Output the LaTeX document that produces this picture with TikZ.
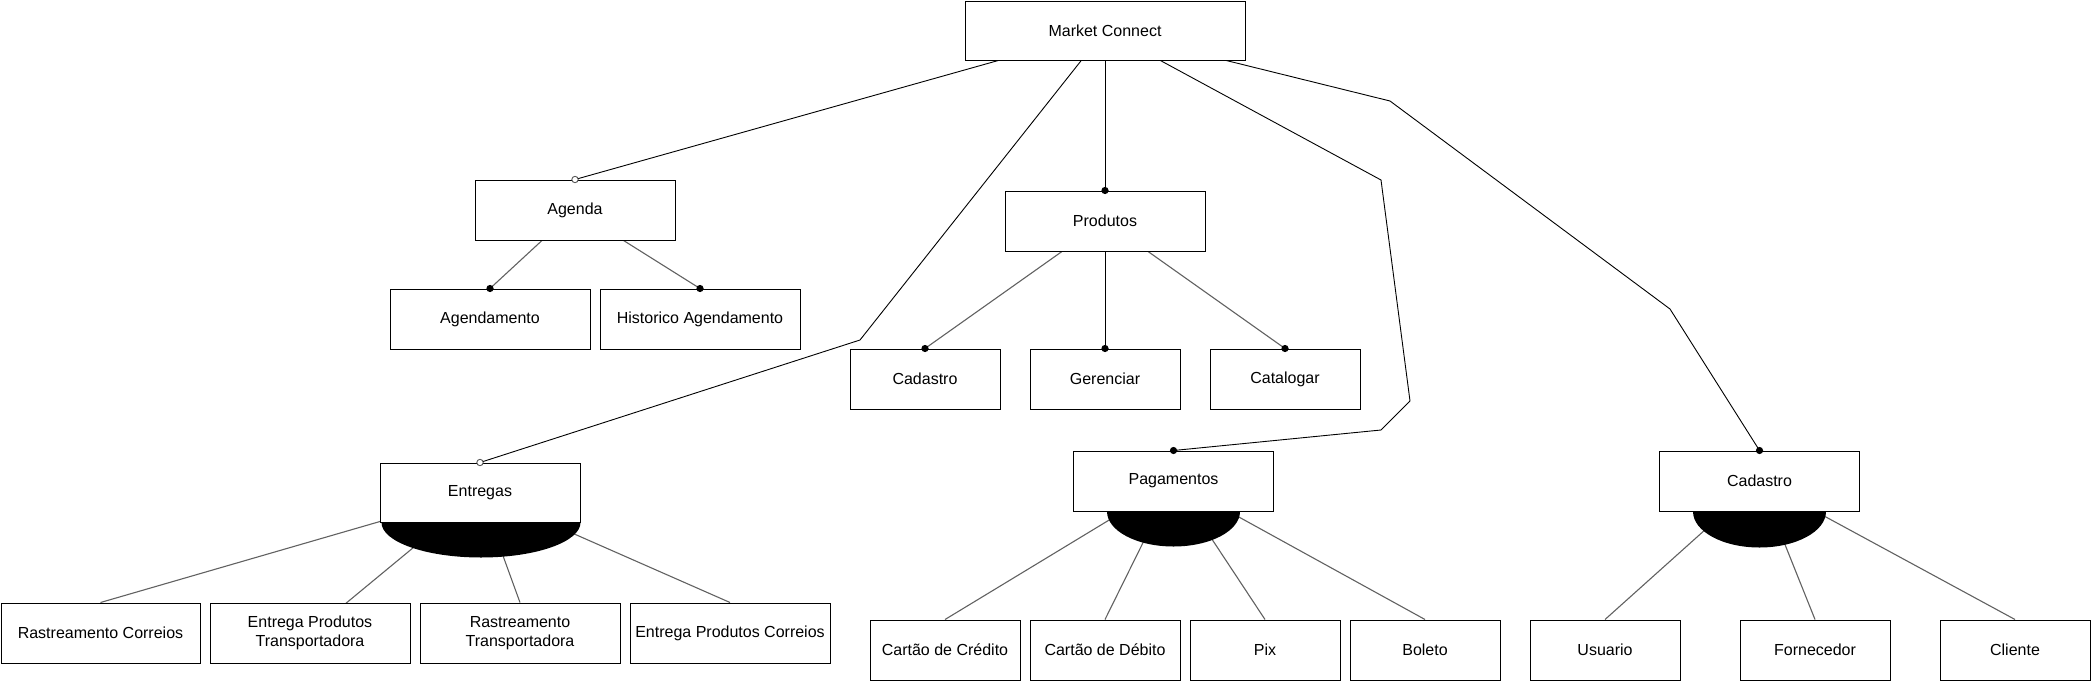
\documentclass[tikz,border=0pt]{standalone}
\usepackage{fontspec}
\setmainfont{Liberation Sans}
\usetikzlibrary{backgrounds}
\begin{document}
\begin{tikzpicture}[x=1pt,y=1pt,
  box/.style={draw=black, line width=1pt, fill=white, inner sep=0pt, minimum height=60pt, align=center, font=\fontsize{16}{19}\selectfont},
  wide/.style={box, minimum width=200pt},
  narrow/.style={box, minimum width=150pt},
  link/.style={draw=black!62, line width=1.1pt},
  toplink/.style={draw=black, line width=0.9pt},
  optdot/.style={draw=black!65, fill=white, line width=0.9pt},
  group/.style={fill=black}]
\useasboundingbox (0,0) rectangle (2091,-683);
% nodes
\node[box, minimum width=280pt, minimum height=59pt] (mc) at (1105,-30.5) {Market Connect};
\node[wide] (ag) at (575,-210) {Agenda};
\node[wide] (agd) at (490,-319) {Agendamento};
\node[wide] (his) at (700,-319) {Historico Agendamento};
\node[wide] (pr) at (1105,-221) {Produtos};
\node[narrow] (cadp) at (925,-379) {Cadastro};
\node[narrow] (ger) at (1105,-379) {Gerenciar};
\node[narrow] (cat) at (1285,-379) {Catalogar};
\node[wide, minimum height=59pt] (ent) at (480,-492.5) {Entregas};
\node[wide, minimum width=199pt] (rc) at (100.5,-633) {Rastreamento Correios};
\node[wide] (ept) at (310,-633) {Entrega Produtos\\Transportadora};
\node[wide] (rt) at (520,-633) {Rastreamento\\Transportadora};
\node[wide] (epc) at (730,-633) {Entrega Produtos Correios};
\node[wide] (pag) at (1173.5,-481) {Pagamentos};
\node[narrow] (cc) at (945,-650) {Cartão de Crédito};
\node[narrow] (cd) at (1105,-650) {Cartão de Débito};
\node[narrow] (pix) at (1265,-650) {Pix};
\node[narrow] (bol) at (1425,-650) {Boleto};
\node[wide] (cadr) at (1759.5,-481) {Cadastro};
\node[narrow] (usu) at (1605,-650) {Usuario};
\node[narrow] (forn) at (1815,-650) {Fornecedor};
\node[narrow] (cli) at (2015,-650) {Cliente};
\coordinate (b1) at (860,-340);
\coordinate (b2) at (1381,-180);
\coordinate (b3) at (1410,-401);
\coordinate (b4) at (1381,-430);
\coordinate (b5) at (1390,-101);
\coordinate (b6) at (1670,-309);
% connectors
\begin{pgfonlayer}{background}
\draw[toplink] (ag.north) -- (mc.center);
\draw[toplink] (ent.north) -- (b1) -- (mc.center);
\draw[toplink] (pr.north) -- (mc.center);
\draw[toplink] (pag.north) -- (b4) -- (b3) -- (b2) -- (mc.center);
\draw[toplink] (cadr.north) -- (b6) -- (b5) -- (mc.center);
\draw[link] (agd.north) -- (ag.center);
\draw[link] (his.north) -- (ag.center);
\draw[link] (cadp.north) -- (pr.center);
\draw[toplink] (ger.north) -- (pr.center);
\draw[link] (cat.north) -- (pr.center);
\draw[link] (rc.north) -- (ent.center);
\draw[link] (ept.center) -- (ent.center);
\draw[link] (rt.north) -- (ent.center);
\draw[link] (epc.north) -- (ent.center);
\draw[link] (cc.north) -- (pag.center);
\draw[link] (cd.north) -- (pag.center);
\draw[link] (pix.north) -- (pag.center);
\draw[link] (bol.north) -- (pag.center);
\draw[link] (usu.north) -- (cadr.center);
\draw[link] (forn.north) -- (cadr.center);
\draw[link] (cli.north) -- (cadr.center);
\end{pgfonlayer}
% group arcs
\fill[group] (ent.south east) arc[start angle=0, end angle=-180, x radius=99.5pt, y radius=35pt] -- cycle;
\fill[group] ([xshift=66.5pt]pag.south) arc[start angle=0, end angle=-180, x radius=66.5pt, y radius=35pt] -- cycle;
\fill[group] ([xshift=66.5pt]cadr.south) arc[start angle=0, end angle=-180, x radius=66.5pt, y radius=36pt] -- cycle;
% dots
\draw[optdot] (ag.north) circle[radius=3.2pt];
\draw[optdot] (ent.north) circle[radius=3.2pt];
\fill (pr.north) circle[radius=3.6pt];
\fill (pag.north) circle[radius=3.6pt];
\fill (cadr.north) circle[radius=3.6pt];
\fill (agd.north) circle[radius=3.6pt];
\fill (his.north) circle[radius=3.6pt];
\fill (cadp.north) circle[radius=3.6pt];
\fill (ger.north) circle[radius=3.6pt];
\fill (cat.north) circle[radius=3.6pt];
\end{tikzpicture}
\end{document}
